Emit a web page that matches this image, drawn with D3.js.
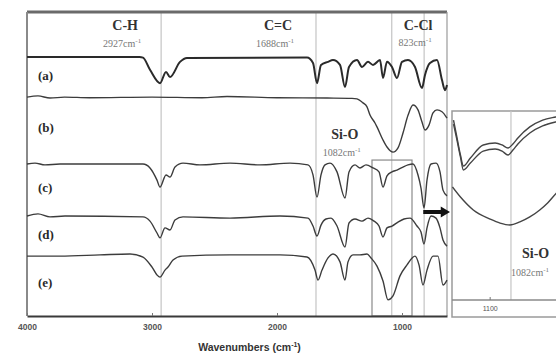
<!DOCTYPE html>
<html>
<head>
<meta charset="utf-8">
<script src="https://cdn.jsdelivr.net/npm/d3@7"></script>
<style>
  body { margin: 0; background: #fff; }
  svg { display: block; }
</style>
</head>
<body>
<div id="chart"></div>
<script>
// spectra: [wavenumber cm-1, stacked transmittance (a.u.)]
const specA = [[4000,85.2],[3100,85.2],[3072,85.0],[3016,81.0],[2936,76.6],[2888,80.3],[2856,78.6],[2776,83.6],[2720,84.9],
  [1760,85.0],[1712,83.2],[1680,76.6],[1648,82.6],[1592,83.6],[1552,84.2],[1496,82.6],[1456,75.3],[1424,81.9],[1360,84.2],
  [1320,81.9],[1272,83.6],[1232,82.6],[1176,84.2],[1152,78.3],[1120,83.6],[1080,81.9],[1040,78.3],[1000,83.6],[952,84.2],
  [896,81.9],[840,75.0],[816,79.3],[776,83.2],[720,84.2],[680,77.6],[656,74.3],[640,76.0]];
const specB = [[4000,72.0],[3912,72.4],[3816,71.7],[3700,72.0],[3500,71.8],[3000,72.0],[2600,71.8],[2400,72.2],[2000,71.8],
  [1600,71.7],[1400,71.6],[1360,71.4],[1312,70.1],[1280,68.8],[1256,66.1],[1216,63.5],[1200,62.2],[1152,57.9],[1120,55.6],
  [1072,53.9],[1032,55.3],[992,60.2],[952,66.0],[912,69.4],[872,67.8],[840,63.8],[816,61.2],[784,62.8],[752,66.8],
  [720,67.8],[680,67.2],[640,65.1]];
const specC = [[4000,50.0],[3936,50.3],[3856,49.7],[3736,50.0],[3072,50.0],[3016,48.7],[2960,44.7],[2936,42.4],[2888,46.4],
  [2856,45.7],[2816,49.0],[2752,50.3],[2616,49.7],[2376,50.3],[2136,49.7],[1896,50.3],[1752,49.7],[1712,46.4],[1680,39.1],
  [1648,46.4],[1616,49.7],[1576,50.3],[1520,47.4],[1456,38.8],[1424,47.4],[1376,49.7],[1336,48.7],[1288,49.7],[1232,48.7],
  [1184,47.4],[1152,42.4],[1120,46.1],[1080,47.4],[1040,48.0],[992,49.0],[952,49.7],[912,50.0],[872,46.4],[848,42.1],
  [824,35.5],[800,44.7],[768,50.0],[728,50.3],[696,47.4],[672,41.4],[640,39.5]];
const specD = [[4000,32.9],[3912,33.6],[3816,32.6],[3696,32.9],[3072,32.6],[3016,31.2],[2960,27.3],[2936,25.7],[2896,29.0],
  [2856,28.3],[2816,31.6],[2752,32.6],[2376,32.2],[1976,32.9],[1752,32.2],[1712,29.6],[1680,26.3],[1648,29.9],[1608,31.9],
  [1568,32.2],[1520,29.6],[1456,22.7],[1424,30.6],[1376,31.9],[1320,31.2],[1272,32.2],[1224,31.2],[1184,29.6],[1152,26.0],
  [1120,29.0],[1080,29.6],[1032,30.9],[984,31.9],[936,32.2],[880,29.6],[848,27.6],[824,23.7],[800,29.0],[768,32.9],
  [728,32.2],[696,29.0],[672,25.0],[640,23.0]];
const specE = [[4000,19.7],[3736,19.7],[3416,20.1],[3176,20.4],[3072,19.4],[3000,16.1],[2960,13.5],[2936,12.8],[2896,15.1],
  [2872,16.1],[2832,18.4],[2760,19.7],[2376,20.1],[1976,20.1],[1760,19.4],[1696,15.1],[1672,11.8],[1640,15.1],[1592,19.1],
  [1552,20.4],[1496,17.8],[1456,11.8],[1432,17.8],[1392,20.1],[1336,20.1],[1280,20.4],[1248,19.1],[1200,16.4],[1152,11.5],
  [1112,5.3],[1072,6.6],[1016,13.2],[960,16.8],[896,19.7],[864,16.8],[832,10.2],[800,15.1],[752,19.7],[712,19.7],
  [672,10.2],[640,11.8]];
const spectra = [specA, specB, specC, specD, specE];
const sampleLabels = ["(a)", "(b)", "(c)", "(d)", "(e)"];
const labelLevels = [79, 62, 42, 26.5, 11];

// marked bands
const bandNames = ["C-H", "C=C", "Si-O", "C-Cl"];
const bandWaves = [2927, 1688, 1082, 823];
const xTicks = [4000, 3000, 2000, 1000];
const zoomBox = [1240, 920, 51.3];

// inset (zoom of the Si-O region)
const insetC = [[1131.7,94.7],[1129.1,86.8],[1125.7,76.3],[1123.1,70.5],[1117.1,74.7],[1106.0,81.6],[1095.7,82.6],
  [1089.7,81.6],[1084.6,80.0],[1080.3,82.1],[1076.0,85.3],[1065.7,91.1],[1054.6,94.7],[1043.4,96.3],[1027.1,97.9]];
const insetD = [[1131.7,92.6],[1129.1,85.3],[1125.7,75.3],[1123.1,68.4],[1117.1,72.1],[1106.0,78.4],[1095.7,79.5],
  [1089.7,78.4],[1084.6,76.3],[1080.3,78.9],[1076.0,82.1],[1065.7,87.9],[1054.6,91.6],[1043.4,93.7],[1027.1,95.3]];
const insetE = [[1132.6,59.5],[1125.7,54.2],[1114.6,47.4],[1100,42.6],[1091.4,40.5],[1082.9,39.5],[1074.3,41.1],
  [1065.7,43.7],[1057.1,47.4],[1050.3,51.1],[1043.4,55.8],[1027.1,64.2]];
const insetTicks = [1100];

const W = 556, H = 362;
const svg = d3.select('#chart').append('svg').attr('width', W).attr('height', H);

const x = d3.scaleLinear().domain([4000, 640]).range([27, 447]);
const y = d3.scaleLinear().domain([0, 100]).range([316, 12]);

// band guide lines
svg.append('g').selectAll('line').data(bandWaves).enter().append('line')
  .attr('x1', d => x(d)).attr('x2', d => x(d))
  .attr('y1', y(100)).attr('y2', y(0))
  .attr('stroke', '#c4c4c4').attr('stroke-width', 1.2);

// zoom box
svg.append('rect')
  .attr('x', x(zoomBox[0])).attr('y', y(zoomBox[2]))
  .attr('width', x(zoomBox[1]) - x(zoomBox[0])).attr('height', y(0) - y(zoomBox[2]))
  .attr('fill', 'none').attr('stroke', '#8a8a8a').attr('stroke-width', 1.2);

// frame
svg.append('line').attr('x1', x(4000)).attr('x2', x(640)).attr('y1', y(100)).attr('y2', y(100))
  .attr('stroke', '#6a6a6a').attr('stroke-width', 3);
svg.append('line').attr('x1', x(4000)).attr('x2', x(4000)).attr('y1', y(100)).attr('y2', y(0))
  .attr('stroke', '#8a8a8a').attr('stroke-width', 2);
svg.append('line').attr('x1', x(640)).attr('x2', x(640)).attr('y1', y(100)).attr('y2', y(0))
  .attr('stroke', '#9a9a9a').attr('stroke-width', 1.2);

// spectra
const line = d3.line().x(d => x(d[0])).y(d => y(d[1])).curve(d3.curveMonotoneX);
svg.append('g').selectAll('path').data(spectra).enter().append('path')
  .attr('d', line)
  .attr('fill', 'none')
  .attr('stroke', (d, i) => i === 0 ? '#2a2a2a' : '#3c3c3c')
  .attr('stroke-width', (d, i) => i === 0 ? 2 : 1.4)
  .attr('stroke-linejoin', 'round');

// x axis
const xAxis = svg.append('g').attr('transform', `translate(0,${y(0)})`)
  .call(d3.axisBottom(x).tickValues(xTicks).tickSizeInner(-3).tickSizeOuter(0).tickPadding(8).tickFormat(d3.format('d')));
xAxis.select('.domain').attr('stroke', '#3a3a3a').attr('stroke-width', 2.2);
xAxis.selectAll('.tick line').attr('stroke', '#777');
xAxis.selectAll('text').attr('font-family', 'Liberation Sans, Arial, sans-serif')
  .attr('font-size', 8.5).attr('font-weight', 'bold').attr('fill', '#555');

svg.append('text').attr('x', x(2220)).attr('y', 351)
  .attr('text-anchor', 'middle').attr('font-family', 'Liberation Sans, Arial, sans-serif')
  .attr('font-size', 10.5).attr('font-weight', 'bold').attr('fill', '#333')
  .text('Wavenumbers (cm').append('tspan').attr('dy', -4).attr('font-size', 7).text('-1')
  .select(function () { return this.parentNode; }).append('tspan').attr('dy', 4).text(')');

// sample labels
svg.append('g').selectAll('text').data(sampleLabels).enter().append('text')
  .attr('x', 38).attr('y', (d, i) => y(labelLevels[i]) + 4)
  .attr('font-family', 'Liberation Serif, Times New Roman, serif')
  .attr('font-size', 13).attr('font-weight', 'bold').attr('fill', '#2a2a2a')
  .text(d => d);

// band annotations
const serif = 'Liberation Serif, Times New Roman, serif';
const annot = [
  { i: 0, dx: -36, ty: 30, sy: 47 },
  { i: 1, dx: -38, ty: 30, sy: 47 },
  { i: 2, dx: -47, ty: 139, sy: 156 },
  { i: 3, dx: -6, ty: 30, sy: 46 }
];
annot.forEach(a => {
  const cx = x(bandWaves[a.i]) + a.dx;
  svg.append('text').attr('x', cx).attr('y', a.ty).attr('text-anchor', 'middle')
    .attr('font-family', serif).attr('font-size', 14).attr('font-weight', 'bold').attr('fill', '#333')
    .text(bandNames[a.i]);
  const t = svg.append('text').attr('x', cx - 3).attr('y', a.sy).attr('text-anchor', 'middle')
    .attr('font-family', serif).attr('font-size', 10).attr('fill', '#777');
  t.append('tspan').text(bandWaves[a.i] + 'cm');
  t.append('tspan').attr('dy', -4).attr('font-size', 7).text('-1');
});

// arrow to inset
const ay = 212;
svg.append('path')
  .attr('d', `M${x(830)},${ay - 2}H${x(690)}V${ay - 5.5}L${x(640) + 3},${ay}L${x(690)},${ay + 5.5}V${ay + 2}H${x(830)}Z`)
  .attr('fill', '#111');

// inset
const xi = d3.scaleLinear().domain([1133, 1005]).range([452, 600]);
const yi = d3.scaleLinear().domain([0, 100]).range([300, 110]);
svg.append('clipPath').attr('id', 'insetClip').append('rect')
  .attr('x', 452).attr('y', 111).attr('width', 150).attr('height', 189);
svg.append('rect').attr('x', 452).attr('y', 111).attr('width', 160).attr('height', 206)
  .attr('fill', '#fff').attr('stroke', '#9a9a9a').attr('stroke-width', 1.5);
svg.append('line').attr('x1', xi(1082)).attr('x2', xi(1082)).attr('y1', 111).attr('y2', 300)
  .attr('stroke', '#c4c4c4').attr('stroke-width', 1.2);
svg.append('line').attr('x1', 452).attr('x2', 612).attr('y1', 300).attr('y2', 300)
  .attr('stroke', '#8a8a8a').attr('stroke-width', 1.5);
svg.append('g').selectAll('line').data(insetTicks).enter().append('line')
  .attr('x1', d => xi(d)).attr('x2', d => xi(d)).attr('y1', 297).attr('y2', 300).attr('stroke', '#777');
svg.append('g').selectAll('text').data(insetTicks).enter().append('text')
  .attr('x', d => xi(d)).attr('y', 311).attr('text-anchor', 'middle')
  .attr('font-family', 'Liberation Sans, Arial, sans-serif').attr('font-size', 7).attr('fill', '#555')
  .text(d => d);
const lineI = d3.line().x(d => xi(d[0])).y(d => yi(d[1])).curve(d3.curveMonotoneX);
svg.append('g').attr('clip-path', 'url(#insetClip)').selectAll('path')
  .data([insetC, insetD, insetE]).enter().append('path')
  .attr('d', lineI).attr('fill', 'none').attr('stroke', '#444').attr('stroke-width', 1.4);
svg.append('text').attr('x', 522).attr('y', 258)
  .attr('font-family', serif).attr('font-size', 14).attr('font-weight', 'bold').attr('fill', '#333')
  .text(bandNames[2]);
const ti = svg.append('text').attr('x', 511).attr('y', 276)
  .attr('font-family', serif).attr('font-size', 10).attr('fill', '#777');
ti.append('tspan').text(bandWaves[2] + 'cm');
ti.append('tspan').attr('dy', -4).attr('font-size', 7).text('-1');
</script>
</body>
</html>
